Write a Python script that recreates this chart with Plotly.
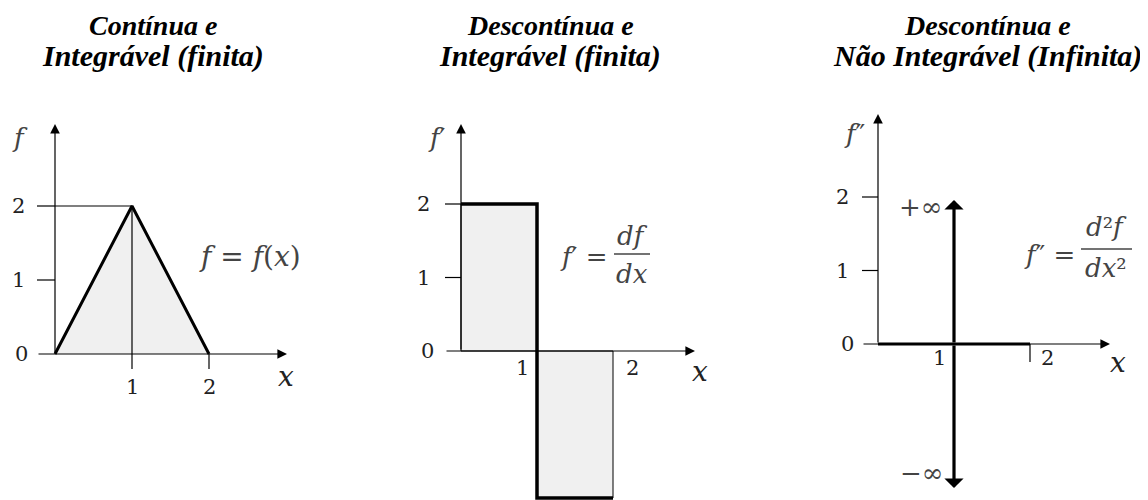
import plotly.graph_objects as go

# ---------------- data ----------------
# panel 1: f(x) triangle
x_f = [0, 1, 2]
y_f = [0, 2, 0]
# panel 2: f'(x) step values on [0,1] and [1,2]
x_df_edges = [0, 1, 2]
df_vals = [2, -2]
# panel 3: f''(x) zero on [0,2], impulse at x=1
x_d2 = [0, 2]
y_d2 = [0, 0]
impulse_x = 1
impulse_len = 1.96
yticks = [0, 1, 2]
xticks = [1, 2]
titles = [["Contínua e", "Integrável (finita)"],
          ["Descontínua e", "Integrável (finita)"],
          ["Descontínua e", "Não Integrável (Infinita)"]]
ylabels = ["𝑓", "𝑓′", "𝑓″"]

OFF = 8  # page body margin of the browser
W, H = 1148 - OFF, 500 - OFF
# per panel pixel mapping (screen px): origin x, px per unit x, origin y, px per unit y, slot
panels = [
    dict(ox=55, sx=77, oy=354, sy=74, left=OFF, right=383),
    dict(ox=461, sx=76, oy=351, sy=73.5, left=383, right=766),
    dict(ox=878, sx=76, oy=344, sy=73.5, left=766, right=1148),
]

fig = go.Figure()
layout = dict(width=W, height=H, margin=dict(l=0, r=0, t=0, b=0),
              paper_bgcolor="white", plot_bgcolor="white", showlegend=False)
for i, p in enumerate(panels):
    n = "" if i == 0 else str(i + 1)
    layout["xaxis" + n] = dict(domain=[(p["left"] - OFF) / W, (p["right"] - OFF) / W],
                               range=[(p["left"] - p["ox"]) / p["sx"], (p["right"] - p["ox"]) / p["sx"]],
                               visible=False, fixedrange=True)
    layout["yaxis" + n] = dict(domain=[0, 1], anchor="x" + n,
                               range=[(p["oy"] - 500) / p["sy"], (p["oy"] - OFF) / p["sy"]],
                               visible=False, fixedrange=True)
fig.update_layout(**layout)

ann = []
shapes = []
GRAY = "#f0f0f0"
TXT = "#222222"
MATH = "#444444"
TICKFONT = dict(family="DejaVu Serif", size=21, color=TXT)


def px(i, X, Y):
    p = panels[i]
    return (X - p["ox"]) / p["sx"], (p["oy"] - Y) / p["sy"]


def line(i, x0, y0, x1, y1, w=1.2):
    n = "" if i == 0 else str(i + 1)
    shapes.append(dict(type="line", xref="x" + n, yref="y" + n, x0=x0, y0=y0, x1=x1, y1=y1,
                       line=dict(color="black", width=w)))


def arrow(i, x0, y0, x1, y1, w=1.2, size=1.6, head=2):
    n = "" if i == 0 else str(i + 1)
    ann.append(dict(xref="x" + n, yref="y" + n, axref="x" + n, ayref="y" + n,
                    x=x1, y=y1, ax=x0, ay=y0, showarrow=True, arrowhead=head,
                    arrowsize=size, arrowwidth=w, arrowcolor="black", standoff=0, startstandoff=0, text=""))


def text(i, X, Y, s, font, xanchor="center"):
    n = "" if i == 0 else str(i + 1)
    x, y = px(i, X, Y)
    ann.append(dict(xref="x" + n, yref="y" + n, x=x, y=y, text=s, showarrow=False,
                    font=font, xanchor=xanchor, yanchor="middle"))


# ---------- titles ----------
title_centers = [153, 550, 987]
TFONT1 = dict(family="Liberation Serif", size=28, color="black")
TFONT2 = dict(family="Liberation Serif", size=30, color="black")
for i, (l1, l2) in enumerate(titles):
    cx = title_centers[i]
    ann.append(dict(xref="paper", yref="paper", x=(cx - OFF) / W, y=1, showarrow=False,
                    text=f"<b><i>{l1}</i></b>", font=TFONT1, xanchor="center", yanchor="top"))
    ann.append(dict(xref="paper", yref="paper", x=(cx - OFF) / W, y=1 - (56 - OFF) / H, showarrow=False,
                    text=f"<b><i>{l2}</i></b>", font=TFONT2, xanchor="center", yanchor="middle"))

LBL = dict(family="DejaVu Serif", size=26, color=MATH)
XL = dict(family="DejaVu Serif", size=28, color=TXT)
MF = dict(family="DejaVu Serif", size=26, color=MATH)

# ---------- panel 1 ----------
fig.add_trace(go.Scatter(x=x_f, y=y_f, fill="toself", fillcolor=GRAY, mode="lines",
                         line=dict(color="black", width=3), xaxis="x", yaxis="y", hoverinfo="skip"))
tick_l = px(0, 37, 0)[0]
tick_b = px(0, 0, 369)[1]
arrow(0, tick_l, 0, px(0, 287, 0)[0], 0)
arrow(0, 0, 0, 0, px(0, 0, 124)[1])
for yt in yticks[1:]:
    line(0, tick_l, yt, 0, yt)
line(0, 0, max(y_f), x_f[1], max(y_f))          # guide at peak
line(0, x_f[1], max(y_f), x_f[1], tick_b)        # vertical guide to x=1
line(0, x_f[2], 0, x_f[2], tick_b)
for yt in yticks:
    text(0, 18 if yt else 21, panels[0]["oy"] - yt * panels[0]["sy"], str(yt), TICKFONT)
for xt in xticks:
    text(0, panels[0]["ox"] + xt * panels[0]["sx"], 387, str(xt), TICKFONT)
text(0, 20, 138, ylabels[0], LBL)
text(0, 286, 376, "𝑥", XL)
text(0, 250, 256, "𝑓 = 𝑓(𝑥)", dict(family="DejaVu Serif", size=28, color=MATH))

# ---------- panel 2 ----------
for k, v in enumerate(df_vals):
    xa, xb = x_df_edges[k], x_df_edges[k + 1]
    fig.add_trace(go.Scatter(x=[xa, xb, xb, xa, xa], y=[0, 0, v, v, 0], fill="toself", fillcolor=GRAY,
                             mode="lines", line=dict(color="black", width=1), xaxis="x2", yaxis="y2",
                             hoverinfo="skip"))
fig.add_trace(go.Scatter(x=[x_df_edges[0], x_df_edges[1], x_df_edges[1], x_df_edges[2]],
                         y=[df_vals[0], df_vals[0], df_vals[1], df_vals[1]], mode="lines",
                         line=dict(color="black", width=3.5), xaxis="x2", yaxis="y2", hoverinfo="skip"))
tick_l = px(1, 445, 0)[0]
arrow(1, tick_l, 0, px(1, 695, 0)[0], 0)
arrow(1, 0, 0, 0, px(1, 0, 124)[1])
for yt in yticks[1:]:
    line(1, tick_l, yt, 0, yt)
p = panels[1]
for yt in yticks:
    text(1, 423 if yt else 427, p["oy"] - yt * p["sy"], str(yt), TICKFONT)
text(1, 522, 368, str(xticks[0]), TICKFONT)
text(1, 632, 368, str(xticks[1]), TICKFONT)
text(1, 437, 138, ylabels[1], LBL)
text(1, 700, 371, "𝑥", XL)
text(1, 610, 257, "𝑓′ =", MF, xanchor="right")
text(1, 632, 236, "𝑑𝑓", MF)
text(1, 632, 274, "𝑑𝑥", MF)
xa, ya = px(1, 614, 254)
xb, _ = px(1, 650, 254)
shapes.append(dict(type="line", xref="x2", yref="y2", x0=xa, x1=xb, y0=ya, y1=ya,
                   line=dict(color=MATH, width=1.5)))

# ---------- panel 3 ----------
fig.add_trace(go.Scatter(x=x_d2, y=y_d2, mode="lines", line=dict(color="black", width=3),
                         xaxis="x3", yaxis="y3", hoverinfo="skip"))
tick_l = px(2, 862, 0)[0]
arrow(2, tick_l, 0, px(2, 1110, 0)[0], 0)
arrow(2, 0, 0, 0, px(2, 0, 114)[1])
for yt in yticks[1:]:
    line(2, tick_l, yt, 0, yt)
line(2, x_d2[1], 0, x_d2[1], px(2, 0, 362)[1])
arrow(2, impulse_x, 0, impulse_x, impulse_len, w=3.2, size=1.0, head=1)
arrow(2, impulse_x, 0, impulse_x, -impulse_len, w=3.2, size=1.0, head=1)
p = panels[2]
for yt in yticks:
    text(2, 842 if yt else 847, p["oy"] - yt * p["sy"], str(yt), TICKFONT)
text(2, 939, 358, str(xticks[0]), TICKFONT)
text(2, 1047, 358, str(xticks[1]), TICKFONT)
text(2, 855, 134, ylabels[2], LBL)
text(2, 1118, 362, "𝑥", XL)
text(2, 920, 207, "+∞", dict(family="DejaVu Serif", size=26, color=MATH))
text(2, 921, 473, "−∞", dict(family="DejaVu Serif", size=26, color=MATH))
text(2, 1077, 255, "𝑓″ =", MF, xanchor="right")
text(2, 1106, 227, "𝑑²𝑓", MF)
text(2, 1106, 268, "𝑑𝑥²", MF)
xa, ya = px(2, 1081, 249)
xb, _ = px(2, 1132, 249)
shapes.append(dict(type="line", xref="x3", yref="y3", x0=xa, x1=xb, y0=ya, y1=ya,
                   line=dict(color=MATH, width=1.5)))

fig.update_layout(annotations=ann, shapes=shapes)
fig.write_html("out.html")
